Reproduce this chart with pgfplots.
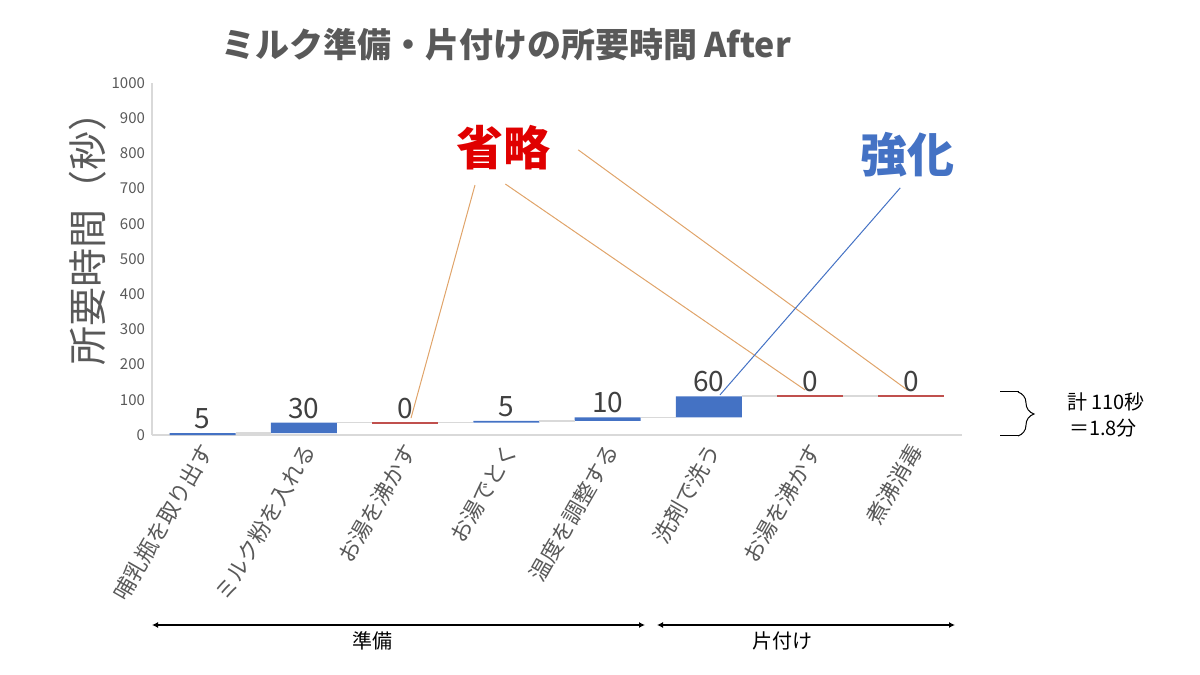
\documentclass[border=0pt]{standalone}
\usepackage{fontspec}
\setmainfont{Noto Sans CJK JP}
\usepackage{pgfplots}
\pgfplotsset{compat=1.18}
\usetikzlibrary{decorations.pathreplacing, arrows.meta}
\definecolor{barblue}{HTML}{4472C4}
\definecolor{zred}{HTML}{C0504D}
\definecolor{txtgray}{HTML}{595959}
\definecolor{lblgray}{HTML}{404040}
\definecolor{axgray}{HTML}{D9D9D9}
\definecolor{annor}{HTML}{E0A46A}
\definecolor{titlered}{HTML}{E00000}
\pgfplotsset{common/.style={
  at={(76pt,120pt)}, anchor=south west, scale only axis,
  width=405pt, height=176pt,
  xmin=-0.5, xmax=7.5, ymin=0, ymax=1000, clip=false}}
\begin{document}
\begin{tikzpicture}[x=1pt,y=1pt]
\path[use as bounding box] (0,0) rectangle (600,337.5);
\begin{axis}[common, ybar stacked, bar width=33pt,
  axis x line*=bottom, axis y line*=left,
  axis line style={axgray, line width=0.6pt},
  major tick length=0pt,
  ytick={0,100,...,1000},
  xtick={0,...,7},
  xticklabels={哺乳瓶を取り出す, ミルク粉を入れる, お湯を沸かす, お湯でとく, 温度を調整する, 洗剤で洗う, お湯を沸かす, 煮沸消毒},
  yticklabel style={font=\fontsize{7.5}{9}\selectfont, text=txtgray, /pgf/number format/assume math mode=true, /pgf/number format/1000 sep={}},
  xticklabel style={font=\fontsize{11}{13}\selectfont, text=txtgray, rotate=60, anchor=east, yshift=-5pt},
]
\addplot[draw=none, fill=none] coordinates {(0,0) (1,5) (2,35) (3,35) (4,40) (5,50) (6,110) (7,110)};
\addplot[draw=none, fill=barblue]
  coordinates {(0,5) (1,30) (2,0) (3,5) (4,10) (5,60) (6,0) (7,0)};
\end{axis}
\begin{axis}[common, hide axis]
% connectors
\addplot[axgray, line width=0.8pt, unbounded coords=jump] coordinates {
  (0.325,5) (0.675,5) (0.5,nan)
  (1.325,35) (1.675,35) (1.5,nan)
  (2.325,35) (2.675,35) (2.5,nan)
  (3.325,40) (3.675,40) (3.5,nan)
  (4.325,50) (4.675,50) (4.5,nan)
  (5.325,110) (5.675,110) (5.5,nan)
  (6.325,110) (6.675,110)};
% zero-value bars
\addplot[zred, line width=0.9pt, unbounded coords=jump] coordinates {
  (1.675,35) (2.325,35) (2,nan)
  (5.675,110) (6.325,110) (6,nan)
  (6.675,110) (7.325,110)};
% value labels (at the top of each step)
\addplot[draw=none, mark=none, point meta=explicit symbolic, nodes near coords,
  every node near coord/.append style={font=\fontsize{14}{16}\selectfont, text=lblgray, anchor=south, yshift=-1.5pt}]
  coordinates {(0,5) [5] (1,35) [30] (2,35) [0] (3,40) [5] (4,50) [10] (5,110) [60] (6,110) [0] (7,110) [0]};
% annotations
\draw[annor, line width=0.5pt] (axis cs:2.69,710) -- (axis cs:2.058,48);
\draw[annor, line width=0.5pt] (axis cs:2.99,713) -- (axis cs:5.95,128);
\draw[annor, line width=0.5pt] (axis cs:3.71,810) -- (axis cs:6.96,128);
\draw[barblue, line width=0.5pt] (axis cs:6.89,702) -- (axis cs:5.11,114);
\node[text=titlered, font=\fontsize{23.5}{26}\selectfont\bfseries] at (axis cs:2.97,815) {省略};
\node[text=barblue, font=\fontsize{23.5}{26}\selectfont\bfseries] at (axis cs:6.96,795) {強化};
\end{axis}
% title
\node[text=txtgray, font=\fontsize{17}{20}\selectfont\bfseries] at (253,315) {ミルク準備・片付けの所要時間 After};
% y label
\node[text=txtgray, rotate=90, font=\fontsize{19.5}{23}\selectfont] at (44,223) {所要時間（秒）};
% brace
\draw[line width=0.5pt, decorate, decoration={brace, amplitude=8pt}] (509,141.5) -- (509,119.5);
\draw[line width=0.5pt] (500,141.5) -- (509.5,141.5);
\draw[line width=0.5pt] (500,119.5) -- (509.5,119.5);
\node[anchor=west, font=\fontsize{10}{12}\selectfont] at (530,136.5) {計 110秒};
\node[anchor=west, font=\fontsize{10}{12}\selectfont] at (531,123.5) {＝1.8分};
% bottom arrows
\draw[{Latex[length=3pt,width=3pt]}-{Latex[length=3pt,width=3pt]}, line width=0.7pt] (76,25) -- (322.5,25);
\draw[{Latex[length=3pt,width=3pt]}-{Latex[length=3pt,width=3pt]}, line width=0.7pt] (328.5,25) -- (477.5,25);
\node[font=\fontsize{10}{12}\selectfont] at (186,17) {準備};
\node[font=\fontsize{10}{12}\selectfont] at (391,17) {片付け};
\end{tikzpicture}
\end{document}
